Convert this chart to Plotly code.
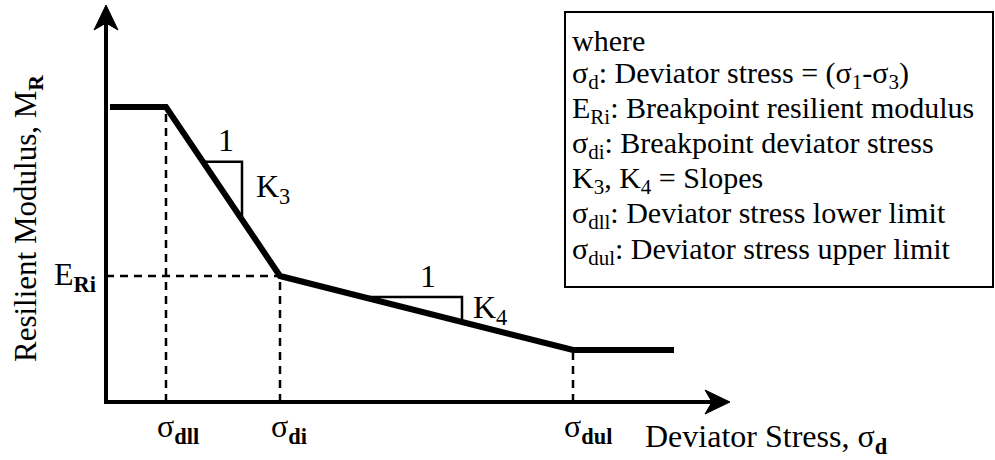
import numpy as np
import plotly.graph_objects as go

# ---- schematic data (arbitrary units) ----
sigma_d = [4, 60, 174, 467, 568]          # deviator stress at curve breakpoints
M_R = [295, 295, 126, 52, 52]             # resilient modulus at breakpoints
sigma_dll = 60                            # deviator stress lower limit
sigma_di = 174                            # breakpoint deviator stress
sigma_dul = 467                           # deviator stress upper limit
E_Ri = 126                                # breakpoint resilient modulus
M_R_max = 295
M_R_min = 52

k3_run = [97, 136]                        # horizontal run of K3 slope triangle
k4_run = [257, 356]                       # horizontal run of K4 slope triangle

x_axis_end = 624
y_axis_end = 397

legend_lines = [
    "where",
    "σ<sub>d</sub>: Deviator stress = (σ<sub>1</sub>-σ<sub>3</sub>)",
    "E<sub>Ri</sub>: Breakpoint resilient modulus",
    "σ<sub>di</sub>: Breakpoint deviator stress",
    "K<sub>3</sub>, K<sub>4</sub> = Slopes",
    "σ<sub>dll</sub>: Deviator stress lower limit",
    "σ<sub>dul</sub>: Deviator stress upper limit",
]
legend_y = [362, 327, 292, 257, 222, 187, 151]

FONT = "Liberation Serif"
fig = go.Figure()

# dashed guide lines
dash = dict(color="black", width=2.5, dash="8px,6px")
fig.add_trace(go.Scatter(x=[sigma_dll, sigma_dll], y=[0, M_R_max], mode="lines", line=dash))
fig.add_trace(go.Scatter(x=[0, sigma_di], y=[E_Ri, E_Ri], mode="lines", line=dash))
fig.add_trace(go.Scatter(x=[sigma_di, sigma_di], y=[0, E_Ri], mode="lines", line=dash))
fig.add_trace(go.Scatter(x=[sigma_dul, sigma_dul], y=[0, M_R_min], mode="lines", line=dash))

# slope triangles
for run in (k3_run, k4_run):
    y0 = float(np.interp(run[0], sigma_d, M_R))
    y1 = float(np.interp(run[1], sigma_d, M_R))
    fig.add_trace(go.Scatter(x=[run[0], run[1], run[1]], y=[y0, y0, y1], mode="lines",
                             line=dict(color="black", width=2.5)))

# main curve
fig.add_trace(go.Scatter(x=sigma_d, y=M_R, mode="lines", line=dict(color="black", width=6)))

shapes = []
# axes
shapes.append(dict(type="line", x0=0, y0=-2, x1=0, y1=y_axis_end - 18, line=dict(color="black", width=4)))
shapes.append(dict(type="line", x0=-2, y0=0, x1=x_axis_end - 18, y1=0, line=dict(color="black", width=4)))
# arrowheads
shapes.append(dict(type="path",
                   path=f"M -12,{y_axis_end-25} L 0,{y_axis_end} L 12,{y_axis_end-25} L 0,{y_axis_end-18} Z",
                   fillcolor="black", line=dict(color="black", width=1)))
shapes.append(dict(type="path",
                   path=f"M {x_axis_end-25},-12 L {x_axis_end},0 L {x_axis_end-25},12 L {x_axis_end-18},0 Z",
                   fillcolor="black", line=dict(color="black", width=1)))
# legend box
shapes.append(dict(type="rect", x0=459, y0=115, x1=887, y1=390, line=dict(color="black", width=2)))

ann = []
big = dict(family=FONT, size=32, color="black")
ann.append(dict(x=-78, y=183, text="Resilient Modulus, M<sub><b>R</b></sub>", textangle=-90,
                showarrow=False, font=dict(family=FONT, size=31, color="black"),
                xanchor="center", yanchor="middle"))
ann.append(dict(x=-8, y=E_Ri, text="E<sub><b>Ri</b></sub>", showarrow=False, font=big,
                xanchor="right", yanchor="middle"))
for xv, lab in ((sigma_dll, "dll"), (sigma_di, "di"), (sigma_dul, "dul")):
    ann.append(dict(x=xv - 11, y=-26, text=f"σ<sub><b>{lab}</b></sub>", showarrow=False, font=big,
                    xanchor="left", yanchor="middle"))
ann.append(dict(x=537, y=-36, text="Deviator Stress, σ<sub><b>d</b></sub>", showarrow=False, font=big,
                xanchor="left", yanchor="middle"))
ann.append(dict(x=120, y=262, text="1", showarrow=False, font=big))
ann.append(dict(x=167, y=214, text="K<sub>3</sub>", showarrow=False, font=big))
ann.append(dict(x=322, y=126, text="1", showarrow=False, font=big))
ann.append(dict(x=384, y=93, text="K<sub>4</sub>", showarrow=False, font=big))
for t, yv in zip(legend_lines, legend_y):
    ann.append(dict(x=464, y=yv, text=t, showarrow=False, xanchor="left", yanchor="middle",
                    font=dict(family=FONT, size=30, color="black")))

fig.update_layout(
    width=995, height=460, autosize=False,
    margin=dict(l=0, r=0, t=0, b=0),
    paper_bgcolor="white", plot_bgcolor="white",
    showlegend=False,
    xaxis=dict(range=[-106, 889], visible=False, fixedrange=True),
    yaxis=dict(range=[-58, 402], visible=False, fixedrange=True),
    shapes=shapes, annotations=ann,
)
fig.write_html("out.html", config={"displayModeBar": False},
               post_script="document.body.style.margin='0';document.body.style.overflow='hidden';")
